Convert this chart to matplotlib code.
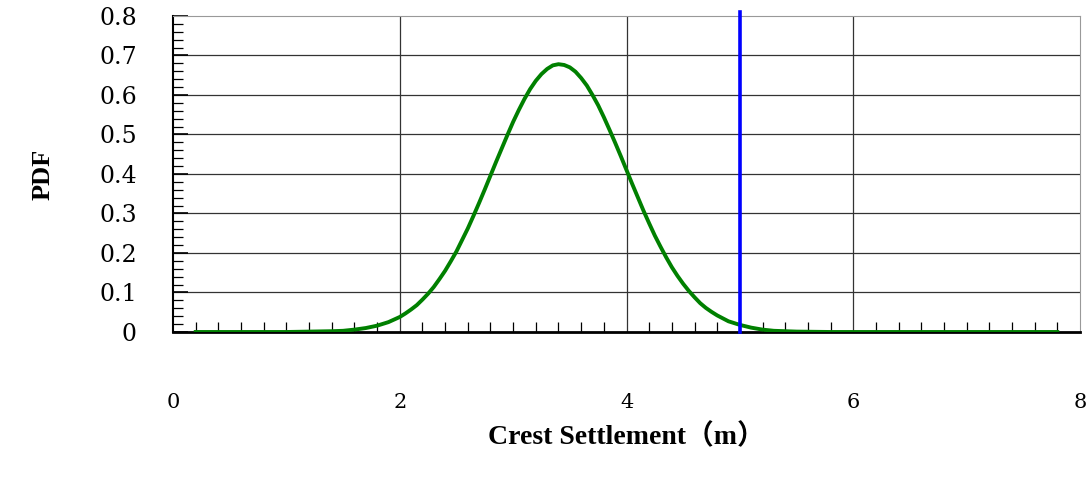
import numpy as np
import matplotlib
matplotlib.use("Agg")
import matplotlib.pyplot as plt
from matplotlib.ticker import MultipleLocator

# crest settlement (m) and PDF values
settlement = [0.2, 0.6, 1.0, 1.4, 1.5, 1.6, 1.7, 1.8, 1.9, 2.0, 2.05, 2.1,
              2.15, 2.2, 2.25, 2.3, 2.35, 2.4, 2.45, 2.5, 2.55, 2.6, 2.65,
              2.7, 2.75, 2.8, 2.85, 2.9, 2.95, 3.0, 3.05, 3.1, 3.15, 3.2,
              3.25, 3.3, 3.35, 3.4, 3.45, 3.5, 3.55, 3.6, 3.65, 3.7, 3.75,
              3.8, 3.85, 3.9, 3.95, 4.0, 4.05, 4.1, 4.15, 4.2, 4.25, 4.3,
              4.35, 4.4, 4.45, 4.5, 4.55, 4.6, 4.65, 4.7, 4.75, 4.8, 4.9,
              5.0, 5.1, 5.2, 5.3, 5.5, 5.8, 6.5, 7.2, 7.8]
pdf = [0.0, 0.0, 0.0, 0.002, 0.003, 0.006, 0.010, 0.016, 0.025, 0.038, 0.047,
       0.057, 0.068, 0.082, 0.097, 0.114, 0.134, 0.155, 0.179, 0.204, 0.233,
       0.262, 0.294, 0.327, 0.361, 0.396, 0.431, 0.465, 0.499, 0.532, 0.562,
       0.590, 0.615, 0.636, 0.653, 0.666, 0.675, 0.678, 0.676, 0.670, 0.659,
       0.643, 0.624, 0.600, 0.574, 0.544, 0.512, 0.479, 0.445, 0.410, 0.375,
       0.341, 0.307, 0.275, 0.244, 0.216, 0.189, 0.164, 0.142, 0.122, 0.104,
       0.088, 0.073, 0.061, 0.051, 0.042, 0.027, 0.018, 0.011, 0.006, 0.003,
       0.001, 0.0, 0.0, 0.0, 0.0]
limit_x = 5.0

x_ticks = [0, 2, 4, 6, 8]
y_ticks = [0, 0.1, 0.2, 0.3, 0.4, 0.5, 0.6, 0.7, 0.8]
y_labels = ["0", "0.1", "0.2", "0.3", "0.4", "0.5", "0.6", "0.7", "0.8"]

fig = plt.figure(figsize=(10.89, 4.79), dpi=100)
ax = fig.add_axes([0.1589, 0.3069, 0.8328, 0.6597])

for yv in y_ticks[1:-1]:
    ax.axhline(yv, color="#333333", lw=0.9, zorder=1)
for xv in x_ticks[1:-1]:
    ax.axvline(xv, color="#333333", lw=0.9, zorder=1)

ax.plot(settlement, pdf, color="#008000", lw=2.8, zorder=3)
ax.plot([limit_x, limit_x], [0, 0.81], color="#0000ff", lw=2.6, zorder=4,
        clip_on=False)

ax.set_xlim(0, 8)
ax.set_ylim(0, 0.8)

ax.set_xticks(x_ticks)
ax.set_xticklabels([str(v) for v in x_ticks])
ax.xaxis.set_minor_locator(MultipleLocator(0.2))
ax.tick_params(axis="x", which="major", length=0, pad=44, labelsize=15)
ax.tick_params(axis="x", which="minor", direction="in", length=7, width=0.9)

ax.set_yticks(y_ticks)
ax.set_yticklabels(y_labels)
ax.yaxis.set_minor_locator(MultipleLocator(0.02))
ax.tick_params(axis="y", which="major", direction="in", length=11, width=1.2,
               pad=26, labelsize=17)
ax.tick_params(axis="y", which="minor", direction="in", length=7, width=0.9)

for lab in ax.get_xticklabels() + ax.get_yticklabels():
    lab.set_family("DejaVu Serif")

ax.spines["left"].set_linewidth(1.5)
ax.spines["bottom"].set_linewidth(2)
ax.spines["top"].set_color("#999999")
ax.spines["right"].set_color("#999999")

ax.set_xlabel("Crest Settlement（m）", fontsize=20, fontweight="bold",
              family=["Liberation Serif", "Noto Sans CJK SC"], labelpad=8)
ax.set_ylabel("PDF", fontsize=19, fontweight="bold",
              family="Liberation Serif", labelpad=32)

fig.savefig("out.png", dpi=100)
